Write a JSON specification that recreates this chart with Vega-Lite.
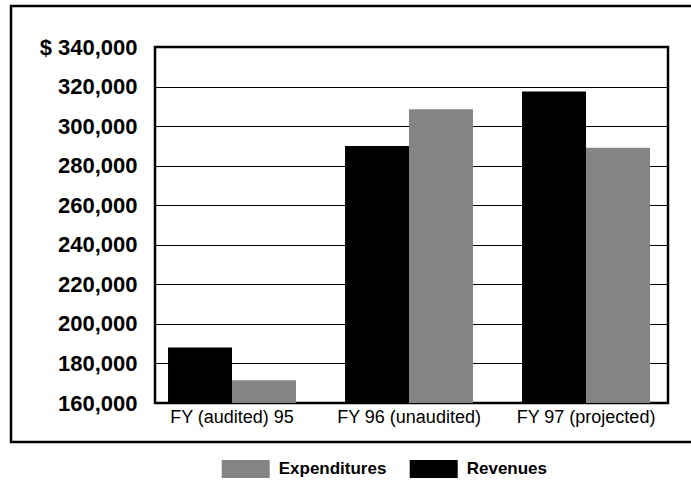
{
  "$schema": "https://vega.github.io/schema/vega-lite/v6.json",
  "width": 513,
  "height": 356,
  "autosize": {"type": "none"},
  "padding": {"left": 155, "top": 47, "right": 23, "bottom": 81},
  "background": "white",
  "config": {
    "view": {"stroke": "black", "strokeWidth": 2.5},
    "legend": {"symbolType": "M-1,-0.375H1V0.375H-1Z"}
  },
  "layer": [
    {
      "data": {"values": [{"x0": -0.2807, "x1": 1.1, "y0": 140300, "y1": 360700}]},
      "mark": {"type": "rect", "filled": false, "stroke": "black", "strokeWidth": 2.5, "clip": false},
      "encoding": {
        "x": {"field": "x0", "type": "quantitative", "scale": {"domain": [0, 1]}, "axis": null},
        "x2": {"field": "x1"},
        "y": {"field": "y0", "type": "quantitative", "scale": {"domain": [160000, 340000], "nice": false, "zero": false}, "axis": null},
        "y2": {"field": "y1"}
      }
    },
    {
      "data": {
        "values": [
          {"year": "FY (audited) 95", "series": "Revenues", "amount": 188000},
          {"year": "FY (audited) 95", "series": "Expenditures", "amount": 171500},
          {"year": "FY 96 (unaudited)", "series": "Revenues", "amount": 290000},
          {"year": "FY 96 (unaudited)", "series": "Expenditures", "amount": 308500},
          {"year": "FY 97 (projected)", "series": "Revenues", "amount": 317500},
          {"year": "FY 97 (projected)", "series": "Expenditures", "amount": 289000}
        ]
      },
      "mark": {"type": "bar"},
      "encoding": {
        "x": {
          "field": "year", "type": "nominal", "sort": null,
          "scale": {"paddingInner": 0.277, "paddingOuter": 0.0876, "align": 0.42},
          "axis": {"title": null, "labelAngle": 0, "ticks": false, "domain": false, "labelPadding": 5,
                   "labelFont": "Liberation Sans", "labelFontSize": 18, "labelColor": "black"}
        },
        "xOffset": {"field": "series", "type": "nominal", "sort": ["Revenues", "Expenditures"],
                    "scale": {"paddingInner": 0, "paddingOuter": 0}},
        "y": {
          "field": "amount", "type": "quantitative",
          "scale": {"domain": [160000, 340000], "nice": false, "zero": false},
          "axis": {"title": null, "values": [160000, 180000, 200000, 220000, 240000, 260000, 280000, 300000, 320000, 340000],
                   "grid": true, "gridColor": "black", "gridWidth": 1, "gridOpacity": 1,
                   "ticks": false, "domain": false, "labelPadding": 18, "labelOverlap": false,
                   "labelFont": "Liberation Sans", "labelFontWeight": "bold", "labelFontSize": 22, "labelColor": "black",
                   "labelExpr": "datum.value == 340000 ? '$ ' + datum.label : datum.label"}
        },
        "y2": {"datum": 160000},
        "color": {
          "field": "series", "type": "nominal",
          "scale": {"domain": ["Expenditures", "Revenues"], "range": ["#848484", "#000000"]},
          "legend": {"orient": "none", "legendX": 66.7, "legendY": 398, "direction": "horizontal", "title": null,
                     "symbolSize": 2304, "symbolStrokeWidth": 0, "symbolOpacity": 1,
                     "labelFont": "Liberation Sans", "labelFontWeight": "bold", "labelFontSize": 17,
                     "labelColor": "black", "labelOffset": 9, "columnPadding": 23}
        }
      }
    }
  ],
  "resolve": {"scale": {"x": "independent", "y": "independent"}}
}
